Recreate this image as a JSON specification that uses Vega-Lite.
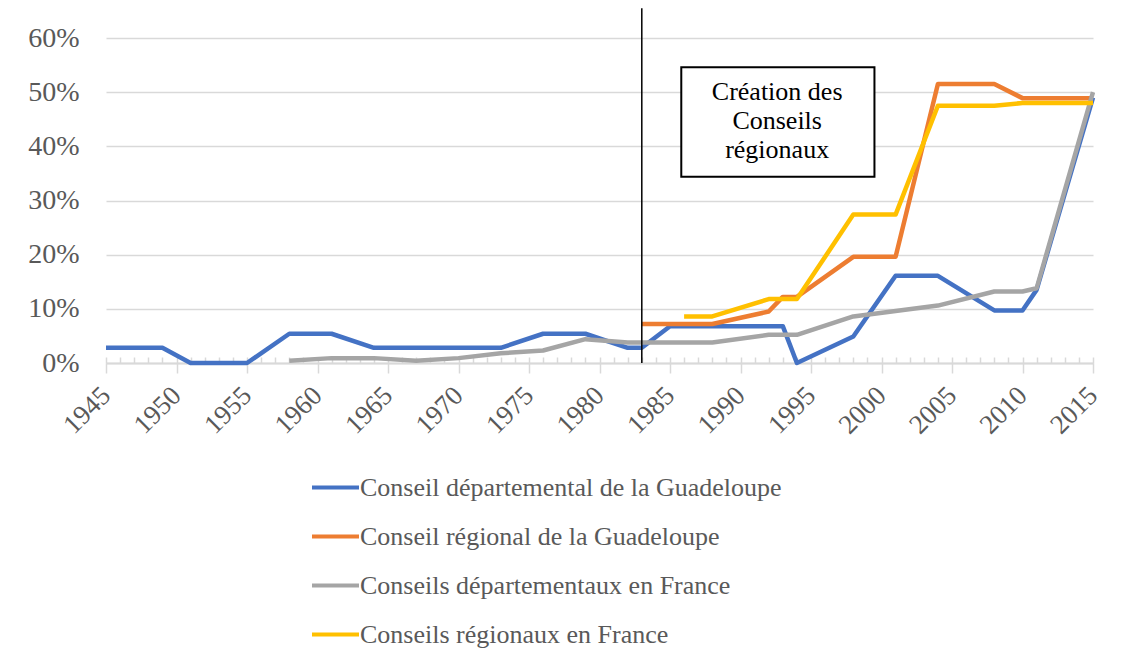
{
  "$schema": "https://vega.github.io/schema/vega-lite/v6.json",
  "autosize": {"type": "none"},
  "padding": {"left": 106, "top": 38, "right": 41, "bottom": 300},
  "width": 987,
  "height": 325,
  "background": "white",
  "config": {
    "view": {"stroke": null},
    "font": "Liberation Serif",
    "axis": {"labelFont": "Liberation Serif", "labelColor": "#595959"},
    "legend": {"labelFont": "Liberation Serif", "labelColor": "#595959"}
  },
  "resolve": {"axis": {"x": "independent"}},
  "layer": [
    {
      "data": {
        "values": [
          {"year": 1945, "series": "Conseil départemental de la Guadeloupe", "value": 0.028},
          {"year": 1949, "series": "Conseil départemental de la Guadeloupe", "value": 0.028},
          {"year": 1951, "series": "Conseil départemental de la Guadeloupe", "value": 0.0},
          {"year": 1955, "series": "Conseil départemental de la Guadeloupe", "value": 0.0},
          {"year": 1958, "series": "Conseil départemental de la Guadeloupe", "value": 0.054},
          {"year": 1961, "series": "Conseil départemental de la Guadeloupe", "value": 0.054},
          {"year": 1964, "series": "Conseil départemental de la Guadeloupe", "value": 0.028},
          {"year": 1967, "series": "Conseil départemental de la Guadeloupe", "value": 0.028},
          {"year": 1970, "series": "Conseil départemental de la Guadeloupe", "value": 0.028},
          {"year": 1973, "series": "Conseil départemental de la Guadeloupe", "value": 0.028},
          {"year": 1976, "series": "Conseil départemental de la Guadeloupe", "value": 0.054},
          {"year": 1979, "series": "Conseil départemental de la Guadeloupe", "value": 0.054},
          {"year": 1982, "series": "Conseil départemental de la Guadeloupe", "value": 0.028},
          {"year": 1983, "series": "Conseil départemental de la Guadeloupe", "value": 0.028},
          {"year": 1985, "series": "Conseil départemental de la Guadeloupe", "value": 0.068},
          {"year": 1988, "series": "Conseil départemental de la Guadeloupe", "value": 0.068},
          {"year": 1992, "series": "Conseil départemental de la Guadeloupe", "value": 0.068},
          {"year": 1993, "series": "Conseil départemental de la Guadeloupe", "value": 0.068},
          {"year": 1994, "series": "Conseil départemental de la Guadeloupe", "value": 0.0},
          {"year": 1998, "series": "Conseil départemental de la Guadeloupe", "value": 0.049},
          {"year": 2001, "series": "Conseil départemental de la Guadeloupe", "value": 0.161},
          {"year": 2004, "series": "Conseil départemental de la Guadeloupe", "value": 0.161},
          {"year": 2008, "series": "Conseil départemental de la Guadeloupe", "value": 0.097},
          {"year": 2010, "series": "Conseil départemental de la Guadeloupe", "value": 0.097},
          {"year": 2011, "series": "Conseil départemental de la Guadeloupe", "value": 0.135},
          {"year": 2015, "series": "Conseil départemental de la Guadeloupe", "value": 0.49},
          {"year": 1983, "series": "Conseil régional de la Guadeloupe", "value": 0.072},
          {"year": 1986, "series": "Conseil régional de la Guadeloupe", "value": 0.072},
          {"year": 1988, "series": "Conseil régional de la Guadeloupe", "value": 0.072},
          {"year": 1992, "series": "Conseil régional de la Guadeloupe", "value": 0.095},
          {"year": 1993, "series": "Conseil régional de la Guadeloupe", "value": 0.122},
          {"year": 1994, "series": "Conseil régional de la Guadeloupe", "value": 0.122},
          {"year": 1998, "series": "Conseil régional de la Guadeloupe", "value": 0.196},
          {"year": 2001, "series": "Conseil régional de la Guadeloupe", "value": 0.196},
          {"year": 2004, "series": "Conseil régional de la Guadeloupe", "value": 0.515},
          {"year": 2008, "series": "Conseil régional de la Guadeloupe", "value": 0.515},
          {"year": 2010, "series": "Conseil régional de la Guadeloupe", "value": 0.489},
          {"year": 2015, "series": "Conseil régional de la Guadeloupe", "value": 0.489},
          {"year": 1958, "series": "Conseils départementaux en France", "value": 0.004},
          {"year": 1961, "series": "Conseils départementaux en France", "value": 0.009},
          {"year": 1964, "series": "Conseils départementaux en France", "value": 0.009},
          {"year": 1967, "series": "Conseils départementaux en France", "value": 0.004},
          {"year": 1970, "series": "Conseils départementaux en France", "value": 0.009},
          {"year": 1973, "series": "Conseils départementaux en France", "value": 0.018},
          {"year": 1976, "series": "Conseils départementaux en France", "value": 0.023},
          {"year": 1979, "series": "Conseils départementaux en France", "value": 0.044},
          {"year": 1982, "series": "Conseils départementaux en France", "value": 0.038},
          {"year": 1985, "series": "Conseils départementaux en France", "value": 0.038},
          {"year": 1988, "series": "Conseils départementaux en France", "value": 0.038},
          {"year": 1992, "series": "Conseils départementaux en France", "value": 0.052},
          {"year": 1994, "series": "Conseils départementaux en France", "value": 0.052},
          {"year": 1998, "series": "Conseils départementaux en France", "value": 0.086},
          {"year": 2001, "series": "Conseils départementaux en France", "value": 0.096},
          {"year": 2004, "series": "Conseils départementaux en France", "value": 0.106},
          {"year": 2008, "series": "Conseils départementaux en France", "value": 0.132},
          {"year": 2010, "series": "Conseils départementaux en France", "value": 0.132},
          {"year": 2011, "series": "Conseils départementaux en France", "value": 0.138},
          {"year": 2015, "series": "Conseils départementaux en France", "value": 0.5},
          {"year": 1986, "series": "Conseils régionaux en France", "value": 0.086},
          {"year": 1988, "series": "Conseils régionaux en France", "value": 0.086},
          {"year": 1992, "series": "Conseils régionaux en France", "value": 0.118},
          {"year": 1994, "series": "Conseils régionaux en France", "value": 0.118},
          {"year": 1998, "series": "Conseils régionaux en France", "value": 0.274},
          {"year": 2001, "series": "Conseils régionaux en France", "value": 0.274},
          {"year": 2004, "series": "Conseils régionaux en France", "value": 0.475},
          {"year": 2008, "series": "Conseils régionaux en France", "value": 0.475},
          {"year": 2010, "series": "Conseils régionaux en France", "value": 0.48},
          {"year": 2015, "series": "Conseils régionaux en France", "value": 0.48}
        ]
      },
      "mark": {"type": "line", "strokeWidth": 4.5, "strokeJoin": "round"},
      "encoding": {
        "x": {
          "field": "year", "type": "quantitative",
          "scale": {"domain": [1945, 2015], "nice": false, "zero": false},
          "axis": {
            "title": null,
            "orient": "bottom",
            "values": [1945, 1950, 1955, 1960, 1965, 1970, 1975, 1980, 1985, 1990, 1995, 2000, 2005, 2010, 2015],
            "format": "d",
            "labelFont": "Liberation Serif",
            "labelAngle": -45,
            "labelAlign": "right",
            "labelBaseline": "middle",
            "labelFontSize": 27,
            "labelPadding": 18,
            "labelOverlap": false,
            "labelFlush": false,
            "tickSize": 10,
            "tickColor": "#d9d9d9",
            "tickWidth": 1.5,
            "domainColor": "#d9d9d9",
            "domainWidth": 2,
            "grid": false
          }
        },
        "y": {
          "field": "value", "type": "quantitative",
          "scale": {"domain": [0, 0.6], "nice": false},
          "axis": {
            "title": null,
            "values": [0, 0.1, 0.2, 0.3, 0.4, 0.5, 0.6],
            "format": ".0%",
            "labelFont": "Liberation Serif",
            "labelFontSize": 28,
            "labelPadding": 27,
            "domain": false,
            "ticks": false,
            "gridColor": "#d9d9d9",
            "gridWidth": 1.5
          }
        },
        "color": {
          "field": "series", "type": "nominal",
          "scale": {
            "domain": ["Conseil départemental de la Guadeloupe", "Conseil régional de la Guadeloupe", "Conseils départementaux en France", "Conseils régionaux en France"],
            "range": ["#4472C4", "#ED7D31", "#A5A5A5", "#FFC000"]
          },
          "legend": {
            "title": null,
            "orient": "none",
            "legendX": 204,
            "legendY": 424,
            "direction": "vertical",
            "symbolType": "stroke",
            "symbolSize": 2209,
            "symbolStrokeWidth": 4,
            "labelFont": "Liberation Serif",
            "labelFontSize": 26,
            "labelOffset": -1,
            "labelLimit": 0,
            "rowPadding": 10
          }
        }
      }
    },
    {
      "data": {"values": [{}]},
      "mark": {"type": "rule", "color": "black", "strokeWidth": 1.5},
      "encoding": {
        "x": {
          "datum": 1983, "type": "quantitative",
          "axis": {
            "title": null,
            "orient": "bottom",
            "values": [1945, 1946, 1947, 1948, 1949, 1950, 1951, 1952, 1953, 1954, 1955, 1956, 1957, 1958, 1959, 1960, 1961, 1962, 1963, 1964, 1965, 1966, 1967, 1968, 1969, 1970, 1971, 1972, 1973, 1974, 1975, 1976, 1977, 1978, 1979, 1980, 1981, 1982, 1983, 1984, 1985, 1986, 1987, 1988, 1989, 1990, 1991, 1992, 1993, 1994, 1995, 1996, 1997, 1998, 1999, 2000, 2001, 2002, 2003, 2004, 2005, 2006, 2007, 2008, 2009, 2010, 2011, 2012, 2013, 2014, 2015],
            "labels": false,
            "domain": false,
            "grid": false,
            "tickSize": -6,
            "tickColor": "#d9d9d9",
            "tickWidth": 1.5
          }
        },
        "y": {"datum": 0},
        "y2": {"datum": 0.655}
      }
    },
    {
      "data": {"values": [{}]},
      "mark": {"type": "rect", "fill": "white", "stroke": "black", "strokeWidth": 2},
      "encoding": {
        "x": {"datum": 1985.8, "type": "quantitative", "axis": null},
        "x2": {"datum": 1999.5},
        "y": {"datum": 0.546},
        "y2": {"datum": 0.344}
      }
    },
    {
      "data": {"values": [{}]},
      "mark": {"type": "text", "font": "Liberation Serif", "fontSize": 26, "color": "black", "align": "center", "baseline": "middle", "lineHeight": 29},
      "encoding": {
        "x": {"datum": 1992.6, "type": "quantitative", "axis": null},
        "y": {"datum": 0.5},
        "text": {"value": ["Création des", "Conseils", "régionaux"]}
      }
    }
  ]
}
